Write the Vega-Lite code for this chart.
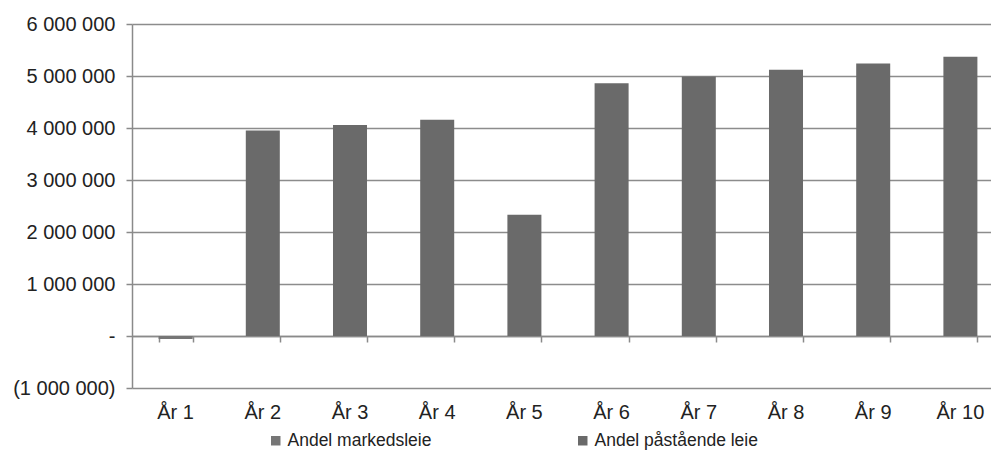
{
  "$schema": "https://vega.github.io/schema/vega-lite/v6.json",
  "autosize": "none",
  "width": 872,
  "height": 364,
  "padding": {"left": 132, "top": 24, "right": 0, "bottom": 64},
  "background": "white",
  "config": {
    "font": "Liberation Sans",
    "view": {"stroke": null},
    "axis": {"labelFont": "Liberation Sans", "labelColor": "#222222", "titleColor": "#222222"}
  },
  "data": {
    "values": [
      {"year": "År 1", "serie": "Andel markedsleie", "value": -60000},
      {"year": "År 1", "serie": "Andel påstående leie", "value": 0},
      {"year": "År 2", "serie": "Andel markedsleie", "value": 0},
      {"year": "År 2", "serie": "Andel påstående leie", "value": 3950000},
      {"year": "År 3", "serie": "Andel markedsleie", "value": 0},
      {"year": "År 3", "serie": "Andel påstående leie", "value": 4060000},
      {"year": "År 4", "serie": "Andel markedsleie", "value": 0},
      {"year": "År 4", "serie": "Andel påstående leie", "value": 4160000},
      {"year": "År 5", "serie": "Andel markedsleie", "value": 0},
      {"year": "År 5", "serie": "Andel påstående leie", "value": 2330000},
      {"year": "År 6", "serie": "Andel markedsleie", "value": 0},
      {"year": "År 6", "serie": "Andel påstående leie", "value": 4860000},
      {"year": "År 7", "serie": "Andel markedsleie", "value": 0},
      {"year": "År 7", "serie": "Andel påstående leie", "value": 4990000},
      {"year": "År 8", "serie": "Andel markedsleie", "value": 0},
      {"year": "År 8", "serie": "Andel påstående leie", "value": 5120000},
      {"year": "År 9", "serie": "Andel markedsleie", "value": 0},
      {"year": "År 9", "serie": "Andel påstående leie", "value": 5240000},
      {"year": "År 10", "serie": "Andel markedsleie", "value": 0},
      {"year": "År 10", "serie": "Andel påstående leie", "value": 5370000}
    ]
  },
  "resolve": {"axis": {"x": "independent"}},
  "layer": [
    {
      "mark": {"type": "bar"},
      "encoding": {
        "x": {
          "field": "year", "type": "nominal", "sort": null,
          "scale": {"paddingInner": 0.61, "paddingOuter": 0.305},
          "axis": {
            "title": null, "orient": "bottom", "domain": false, "ticks": false, "tickSize": 0,
            "grid": false, "labelAngle": 0, "labelFontSize": 20, "labelPadding": 14,
            "labelBaseline": "top"
          }
        },
        "y": {
          "field": "value", "type": "quantitative", "stack": "zero",
          "scale": {"domain": [-1000000, 6000000], "nice": false, "zero": false},
          "axis": {
            "title": null, "values": [-1000000, 0, 1000000, 2000000, 3000000, 4000000, 5000000, 6000000],
            "labelExpr": "datum.value == 0 ? '-\u00a0' : (datum.value < 0 ? '(' + replace(format(-datum.value, ','), regexp(',', 'g'), ' ') + ')' : replace(format(datum.value, ','), regexp(',', 'g'), ' ') + '\u00a0')",
            "labelFontSize": 20, "labelPadding": 11, "labelAlign": "right",
            "domain": true, "domainColor": "#8a8a8a", "domainWidth": 1.5,
            "ticks": true, "tickSize": 6, "tickColor": "#8a8a8a", "tickWidth": 1.5,
            "grid": true, "gridColor": "#8c8c8c", "gridWidth": 1.5
          }
        },
        "color": {
          "field": "serie", "type": "nominal",
          "scale": {"domain": ["Andel markedsleie", "Andel påstående leie"], "range": ["#767676", "#6a6a6a"]},
          "legend": {
            "title": null, "orient": "none", "direction": "horizontal",
            "legendX": 135, "legendY": 408, "symbolType": "square", "symbolSize": 90,
            "symbolStrokeWidth": 0, "labelFontSize": 17.5, "labelColor": "#222222",
            "labelOffset": 3, "columnPadding": 142, "gridAlign": "none", "labelLimit": 300
          }
        },
        "order": {"field": "serie", "sort": "ascending"}
      }
    },
    {
      "mark": {"type": "bar", "opacity": 0},
      "encoding": {
        "x": {
          "field": "year", "type": "nominal", "sort": null,
          "axis": {
            "title": null, "orient": "bottom", "offset": -52, "labels": false, "grid": false,
            "domain": true, "domainColor": "#8a8a8a", "domainWidth": 1.5,
            "ticks": true, "tickBand": "extent", "tickSize": 6, "tickColor": "#8a8a8a", "tickWidth": 1.5
          }
        },
        "y": {"field": "value", "type": "quantitative", "stack": "zero"}
      }
    }
  ]
}
